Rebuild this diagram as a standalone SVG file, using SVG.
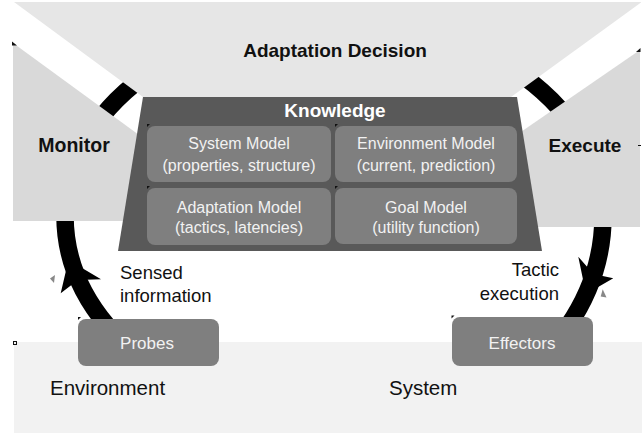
<svg xmlns="http://www.w3.org/2000/svg" width="642" height="433" viewBox="0 0 642 433">
<defs>
<style>
.lbl{font-family:"Liberation Sans",Arial,sans-serif;fill:#111}
.bold{font-weight:bold}
.light{fill:#f2f2f2}
.box{fill:#7f7f7f}
.mark{fill:#111}
.gmark{fill:#888}
</style>
</defs>
<rect width="642" height="433" fill="#ffffff"/>

<g id="environment-band">
<rect x="14" y="342" width="628" height="91" fill="#f2f2f2"/>
<rect x="13.5" y="341.5" width="3" height="3" fill="none" stroke="#111" stroke-width="1"/>
<text class="lbl" x="50" y="395" font-size="20.5">Environment</text>
<text class="lbl" x="389" y="395" font-size="20.5">System</text>
</g>

<g id="connectors">
<path d="M107.5,326 A269 204 0 0 1 65,216 A269 197 0 0 1 334,19 A269 197 0 0 1 603,216 A269 223 0 0 1 568,326" fill="none" stroke="#000" stroke-width="17.5"/>
<polygon points="68.5,260 101,279.3 78,280 60.7,293.3" fill="#000"/>
<polygon points="586,294 578.3,256.7 593.4,274 613.3,278.3" fill="#000"/>
<polygon class="gmark" points="55,275 50,278.5 54,283"/>
<polygon class="gmark" points="602.7,289.3 600.7,296.5 606.5,297.5"/>
</g>

<g id="adaptation-decision">
<polygon points="14,2 641,2 641,2.5 511,97 143,97" fill="#e6e6e6"/>
<text class="lbl bold" x="335" y="57" font-size="19" text-anchor="middle">Adaptation Decision</text>
</g>

<g id="monitor">
<polygon points="13,43 150,143 150,221 13,221" fill="#d9d9d9"/>
<polygon class="mark" points="12,41.5 17,45.5 12,45.5"/>
<text class="lbl bold" x="74" y="152" font-size="19.5" text-anchor="middle">Monitor</text>
</g>

<g id="execute">
<polygon points="640,50 515,136 515,227 640,227" fill="#d9d9d9"/>
<polygon class="mark" points="640.5,48 636,52 640.5,52"/>
<rect class="mark" x="638" y="145" width="3" height="1"/>
<text class="lbl bold" x="585" y="152" font-size="19" text-anchor="middle">Execute</text>
</g>

<g id="knowledge">
<polygon points="143,97 517,97 542,251 118,251" fill="#595959"/>
<text class="lbl bold" x="335" y="117" font-size="19" text-anchor="middle" fill="#ffffff" style="fill:#fff">Knowledge</text>
</g>

<g id="system-model">
<rect class="box" x="147" y="126" width="184" height="56" rx="8"/>
<polygon class="mark" points="147,124 150,124 147,127"/>
<text class="lbl light" x="239" y="149" font-size="16" text-anchor="middle">System Model</text>
<text class="lbl light" x="239" y="171" font-size="16" text-anchor="middle">(properties, structure)</text>
</g>

<g id="environment-model">
<rect class="box" x="335" y="126" width="182" height="56" rx="8"/>
<polygon class="mark" points="335,124 338,124 335,127"/>
<text class="lbl light" x="426" y="149" font-size="16" text-anchor="middle">Environment Model</text>
<text class="lbl light" x="426" y="171" font-size="16" text-anchor="middle">(current, prediction)</text>
</g>

<g id="adaptation-model">
<rect class="box" x="147" y="188" width="184" height="57" rx="8"/>
<polygon class="mark" points="147,186 150,186 147,189"/>
<text class="lbl light" x="239" y="212.5" font-size="16" text-anchor="middle">Adaptation Model</text>
<text class="lbl light" x="239" y="233" font-size="16" text-anchor="middle">(tactics, latencies)</text>
</g>

<g id="goal-model">
<rect class="box" x="335" y="188" width="182" height="56" rx="8"/>
<polygon class="mark" points="335,186 338,186 335,189"/>
<text class="lbl light" x="426" y="212.5" font-size="16" text-anchor="middle">Goal Model</text>
<text class="lbl light" x="426" y="233" font-size="16" text-anchor="middle">(utility function)</text>
</g>

<g id="probes">
<rect class="box" x="78" y="319" width="141" height="47" rx="8"/>
<polygon class="mark" points="78,317 81,317 78,320"/>
<text class="lbl light" x="147" y="349" font-size="17" text-anchor="middle">Probes</text>
</g>

<g id="effectors">
<rect class="box" x="452" y="317" width="141" height="49" rx="8"/>
<polygon class="mark" points="451.5,315.5 454.5,315.5 451.5,318.5"/>
<text class="lbl light" x="522" y="348.5" font-size="17" text-anchor="middle">Effectors</text>
</g>

<g id="labels">
<text class="lbl" font-size="18.5"><tspan x="120" y="279">Sensed</tspan><tspan x="120" y="302">information</tspan></text>
<text class="lbl" font-size="18.5" text-anchor="end"><tspan x="559" y="276">Tactic</tspan><tspan x="559" y="300">execution</tspan></text>
</g>
</svg>
